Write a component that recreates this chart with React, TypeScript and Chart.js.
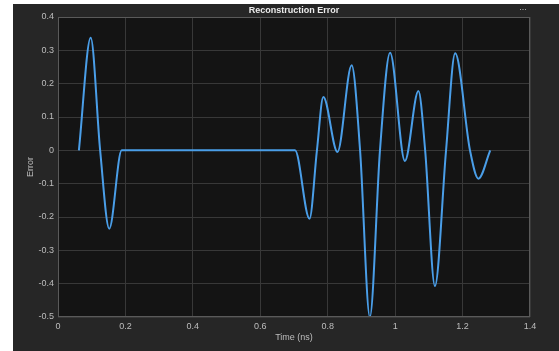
import React, { useEffect, useRef } from "react";
import { Chart, registerables } from "chart.js";
Chart.register(...registerables);

const timeNs = [0.062, 0.097, 0.125, 0.152, 0.189, 0.703, 0.746, 0.768, 0.787, 0.829, 0.871, 0.896, 0.925, 0.955, 0.985, 1.029, 1.069, 1.089, 1.118, 1.151, 1.178, 1.222, 1.247, 1.282];
const errorValues = [0, 0.338, 0, -0.235, 0, 0, -0.205, 0, 0.16, -0.005, 0.255, 0, -0.5, 0, 0.293, -0.032, 0.178, 0, -0.407, 0, 0.291, 0, -0.085, 0];
const xTicks = [0, 0.2, 0.4, 0.6, 0.8, 1, 1.2, 1.4];
const yTicks = [-0.5, -0.4, -0.3, -0.2, -0.1, 0, 0.1, 0.2, 0.3, 0.4];
const chartTitle = "Reconstruction Error";
const xTitle = "Time (ns)";
const yTitle = "Error";

const FONT = "'Liberation Sans', Arial, Helvetica, sans-serif";

export default function App() {
  const ref = useRef<HTMLCanvasElement | null>(null);
  useEffect(() => {
    if (!ref.current) return;
    const decor = {
      id: "decor",
      beforeDraw(chart: any) {
        const { ctx, chartArea: a, width, height } = chart;
        ctx.save();
        ctx.fillStyle = "#ffffff";
        ctx.fillRect(0, 0, width, height);
        ctx.fillStyle = "#262626";
        ctx.fillRect(13, 4, width - 13, height - 4);
        ctx.fillStyle = "#141414";
        ctx.fillRect(a.left, a.top, a.right - a.left, a.bottom - a.top);
        ctx.restore();
      },
      afterDraw(chart: any) {
        const { ctx, chartArea: a } = chart;
        ctx.save();
        ctx.strokeStyle = "#5a5a5a";
        ctx.lineWidth = 1;
        ctx.strokeRect(a.left + 0.5, a.top + 0.5, a.right - a.left - 1, a.bottom - a.top - 1);
        ctx.fillStyle = "#ececec";
        ctx.font = `bold 9px ${FONT}`;
        ctx.textAlign = "center";
        ctx.textBaseline = "middle";
        ctx.fillText(chartTitle, (a.left + a.right) / 2, 11);
        ctx.fillStyle = "#bdbdbd";
        ctx.font = `9px ${FONT}`;
        ctx.fillText("...", 523, 8);
        ctx.fillText(xTitle, (a.left + a.right) / 2, 338);
        ctx.translate(31, (a.top + a.bottom) / 2);
        ctx.rotate(-Math.PI / 2);
        ctx.fillText(yTitle, 0, 0);
        ctx.restore();
      },
    };
    const chart = new Chart(ref.current, {
      type: "line",
      data: {
        datasets: [
          {
            data: timeNs.map((t, i) => ({ x: t, y: errorValues[i] })),
            borderColor: "#4a9ee8",
            borderWidth: 2,
            pointRadius: 0,
            fill: false,
            cubicInterpolationMode: "monotone",
          },
        ],
      },
      options: {
        responsive: false,
        animation: false,
        layout: { padding: { left: 0, top: 17, right: 29, bottom: 0 } },
        plugins: { legend: { display: false }, tooltip: { enabled: false }, title: { display: false } },
        scales: {
          x: {
            type: "linear",
            min: 0,
            max: 1.4,
            afterBuildTicks: (s: any) => {
              s.ticks = xTicks.map((v) => ({ value: v }));
            },
            afterFit: (s: any) => {
              s.height = 34;
            },
            ticks: {
              color: "#bdbdbd",
              font: { family: FONT, size: 9 },
              padding: 4,
              maxRotation: 0,
              callback: (v: any) => String(Number(Number(v).toFixed(1))),
            },
            grid: { color: "#383838", lineWidth: 1, drawTicks: false },
            border: { display: false },
          },
          y: {
            type: "linear",
            min: -0.5,
            max: 0.4,
            afterBuildTicks: (s: any) => {
              s.ticks = yTicks.map((v) => ({ value: v }));
            },
            afterFit: (s: any) => {
              s.width = 58;
            },
            ticks: {
              color: "#bdbdbd",
              font: { family: FONT, size: 9 },
              padding: 4,
              callback: (v: any) => String(Number(Number(v).toFixed(1))),
            },
            grid: { color: "#383838", lineWidth: 1, drawTicks: false },
            border: { display: false },
          },
        },
      },
      plugins: [decor],
    } as any);
    return () => chart.destroy();
  }, []);
  return (
    <div style={{ position: "fixed", left: 0, top: 0, width: 559, height: 351, background: "#fff" }}>
      <canvas ref={ref} width={559} height={351} style={{ display: "block" }} />
    </div>
  );
}
